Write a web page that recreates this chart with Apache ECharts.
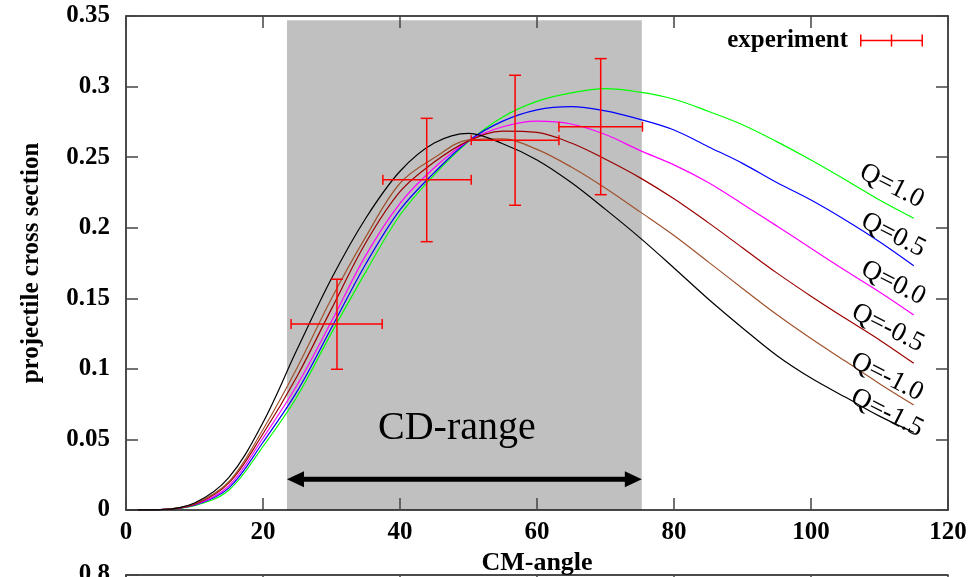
<!DOCTYPE html>
<html>
<head>
<meta charset="utf-8">
<script src="https://cdn.jsdelivr.net/npm/echarts@6/dist/echarts.min.js"></script>
<style>
html,body{margin:0;padding:0;background:#fff;}
#main{width:972px;height:577px;}
</style>
</head>
<body>
<div id="main"></div>
<script>
// CM-angle grid the curves were read at
var angles = [0,5,10,15,20,25,30,35,40,45,50,55,60,65,70,75,80,85,90,95,100,105,110,115];

// projectile cross section for each Q
var qPlus10  = [0,0.0003,0.003,0.014,0.045,0.0806,0.1255,0.1687,0.209,0.2375,0.261,0.2785,0.2895,0.2955,0.2985,0.296,0.291,0.2825,0.273,0.261,0.248,0.234,0.2196,0.2067];
var qPlus05  = [0,0.0003,0.0034,0.0155,0.048,0.0842,0.1291,0.1743,0.2126,0.239,0.2615,0.2755,0.2835,0.2858,0.2828,0.2768,0.2692,0.2574,0.2456,0.232,0.2196,0.2055,0.1901,0.1731];
var qZero    = [0,0.0003,0.0037,0.017,0.051,0.0887,0.1337,0.1804,0.2173,0.2425,0.2615,0.2715,0.2755,0.2735,0.266,0.2548,0.2445,0.232,0.2168,0.2013,0.1854,0.1697,0.1545,0.1382];
var qMinus05 = [0,0.0003,0.004,0.019,0.054,0.095,0.1425,0.1893,0.2255,0.2465,0.2615,0.2685,0.2675,0.260,0.2485,0.2355,0.2205,0.2036,0.1858,0.168,0.1515,0.1358,0.1205,0.1039];
var qMinus10 = [0,0.0003,0.0045,0.020,0.057,0.1009,0.1499,0.1935,0.2315,0.2495,0.2622,0.263,0.2555,0.243,0.228,0.2114,0.1945,0.1758,0.157,0.1385,0.1215,0.1055,0.0895,0.0744];
var qMinus15 = [0,0.0003,0.005,0.023,0.062,0.114,0.164,0.2067,0.240,0.260,0.2669,0.2595,0.248,0.232,0.213,0.193,0.1715,0.1495,0.129,0.1095,0.0935,0.080,0.0665,0.055];

var qNames  = ['Q=1.0','Q=0.5','Q=0.0','Q=-0.5','Q=-1.0','Q=-1.5'];
var qColors = ['#00ff00','#0000ff','#ff00ff','#9b0000','#a0522d','#000000'];
// where the Q tags sit (angle, cross section)
var qTagAngle = [111.8,112.0,112.0,111.2,111.1,111.1];
var qTagValue = [0.2296,0.1948,0.1608,0.129,0.0942,0.0687];

// experiment points with errors
var expAngle   = [30.8,43.9,56.8,69.3];
var expAngleLo = [24.1,37.5,50.4,63.2];
var expAngleHi = [37.4,50.4,63.2,75.4];
var expValue   = [0.1318,0.234,0.2619,0.2716];
var expValueLo = [0.0997,0.1901,0.2159,0.2234];
var expValueHi = [0.1635,0.2775,0.308,0.3198];

// CD-range band
var cdRange = [23.5,75.3];
var cdTop = 0.347;
var arrowY = 0.0217;
var cdText = [48.3,0.058];

var FONT = '"Liberation Serif","Times New Roman",serif';

var curves = [qPlus10,qPlus05,qZero,qMinus05,qMinus10,qMinus15];
var lineSeries = curves.map(function(c,i){
    return {
        name:qNames[i],
        type:'line',
        xAxisIndex:0,
        yAxisIndex:0,
        data:angles.map(function(a,j){return [a,c[j]]}),
        showSymbol:false,
        smooth:0.35,
        lineStyle:{color:qColors[i],width:1.2},
        itemStyle:{color:qColors[i]},
        z:3,
        silent:true
    }
})

var expData = expAngle.map(function(a,i){
    return [a,expValue[i],expAngleLo[i],expAngleHi[i],expValueLo[i],expValueHi[i]]
})

function renderErr(params,api){
    var x=api.value(0),y=api.value(1);
    var l=api.coord([api.value(2),y]), r=api.coord([api.value(3),y]);
    var b=api.coord([x,api.value(4)]), t=api.coord([x,api.value(5)]);
    var st={stroke:'#ff0000',lineWidth:1.5};
    function ln(x1,y1,x2,y2){return {type:'line',shape:{x1:x1,y1:y1,x2:x2,y2:y2},style:st}}
    return {type:'group',children:[
        ln(l[0],l[1],r[0],r[1]),
        ln(l[0],l[1]-5,l[0],l[1]+5),
        ln(r[0],r[1]-5,r[0],r[1]+5),
        ln(b[0],b[1],t[0],t[1]),
        ln(b[0]-6,b[1],b[0]+6,b[1]),
        ln(t[0]-6,t[1],t[0]+6,t[1])
    ]}
}

function renderBand(params,api){
    var p0=api.coord([api.value(0),api.value(2)]);
    var p1=api.coord([api.value(1),0]);
    var a0=api.coord([api.value(0),arrowY]);
    var a1=api.coord([api.value(1),arrowY]);
    var tc=api.coord(cdText);
    return {type:'group',children:[
        {type:'rect',shape:{x:p0[0],y:p0[1],width:p1[0]-p0[0],height:p1[1]-p0[1]},style:{fill:'#c0c0c0'}},
        {type:'line',shape:{x1:a0[0]+12,y1:a0[1],x2:a1[0]-12,y2:a1[1]},style:{stroke:'#000',lineWidth:5}},
        {type:'polygon',shape:{points:[[a0[0],a0[1]],[a0[0]+17,a0[1]-8],[a0[0]+17,a0[1]+8]]},style:{fill:'#000'}},
        {type:'polygon',shape:{points:[[a1[0],a1[1]],[a1[0]-17,a1[1]-8],[a1[0]-17,a1[1]+8]]},style:{fill:'#000'}},
        {type:'text',x:tc[0],y:tc[1],style:{text:'CD-range',fontFamily:FONT,fontSize:40,fill:'#000',align:'center',verticalAlign:'middle'}}
    ]}
}

function renderTags(params,api){
    var p=api.coord([api.value(0),api.value(1)]);
    return {type:'text',x:p[0],y:p[1],rotation:-0.47,
        style:{text:qNames[params.dataIndex],fontFamily:FONT,fontSize:27,fill:'#000',align:'center',verticalAlign:'middle'}}
}

var tickStyle = {inside:true,length:12,lineStyle:{color:'#444',width:1.5}};
var lineAx = {show:true,onZero:false,lineStyle:{color:'#111',width:1.5}};
var labelStyle = {fontFamily:FONT,fontSize:25,fontWeight:'bold',color:'#000'};

var option = {
    backgroundColor:'#fff',
    animation:false,
    grid:[
        {left:126,top:16,width:822,height:494,outerBoundsMode:'none',containLabel:false},
        {left:126,top:575,width:822,height:200,outerBoundsMode:'none',containLabel:false}
    ],
    legend:{
        data:[{name:'experiment',icon:'path://M0,5.25H63V6.75H0Z M0,0H1.5V12H0Z M61.5,0H63V12H61.5Z M30.75,0H32.25V12H30.75Z'}],
        right:49,
        top:28,
        padding:0,
        align:'right',
        itemWidth:63,
        itemHeight:12,
        selectedMode:false,
        textStyle:{fontFamily:FONT,fontSize:25,fontWeight:'bold',color:'#000',padding:[0,7,0,0]}
    },
    xAxis:[
        {type:'value',gridIndex:0,min:0,max:120,interval:20,position:'bottom',z:10,
            name:'CM-angle',nameLocation:'middle',nameGap:37,
            nameTextStyle:{fontFamily:FONT,fontSize:26,fontWeight:'bold',color:'#000'},
            axisLine:lineAx,axisTick:tickStyle,splitLine:{show:false},
            axisLabel:Object.assign({margin:10},labelStyle)},
        {type:'value',gridIndex:0,min:0,max:120,interval:20,position:'top',z:10,
            axisLine:lineAx,axisTick:tickStyle,splitLine:{show:false},axisLabel:{show:false}},
        {type:'value',gridIndex:1,min:0,max:120,interval:20,position:'top',z:10,
            axisLine:lineAx,axisTick:tickStyle,splitLine:{show:false},axisLabel:{show:false}}
    ],
    yAxis:[
        {type:'value',gridIndex:0,min:0,max:0.35,interval:0.05,position:'left',z:10,
            name:'projectile cross section',nameLocation:'middle',nameGap:82,
            nameTextStyle:{fontFamily:FONT,fontSize:25,fontWeight:'bold',color:'#000'},
            axisLine:lineAx,axisTick:tickStyle,splitLine:{show:false},
            axisLabel:Object.assign({margin:16},labelStyle)},
        {type:'value',gridIndex:0,min:0,max:0.35,interval:0.05,position:'right',z:10,
            axisLine:lineAx,axisTick:tickStyle,splitLine:{show:false},axisLabel:{show:false}},
        {type:'value',gridIndex:1,min:0,max:0.8,interval:0.2,position:'left',z:10,
            axisLine:lineAx,axisTick:tickStyle,splitLine:{show:false},
            axisLabel:Object.assign({margin:16},labelStyle)}
    ],
    series:[
        {name:'band',type:'custom',xAxisIndex:0,yAxisIndex:0,z:1,silent:true,
            renderItem:renderBand,data:[[cdRange[0],cdRange[1],cdTop]]}
    ].concat(lineSeries).concat([
        {name:'experiment',type:'custom',xAxisIndex:0,yAxisIndex:0,z:4,silent:true,
            itemStyle:{color:'#ff0000'},
            encode:{x:[0,2,3],y:[1,4,5]},
            renderItem:renderErr,data:expData},
        {name:'tags',type:'custom',xAxisIndex:0,yAxisIndex:0,z:5,silent:true,
            renderItem:renderTags,data:qTagAngle.map(function(a,i){return [a,qTagValue[i]]})}
    ])
}

var myechart = echarts.init(document.getElementById('main'))
myechart.setOption(option)
</script>
</body>
</html>
